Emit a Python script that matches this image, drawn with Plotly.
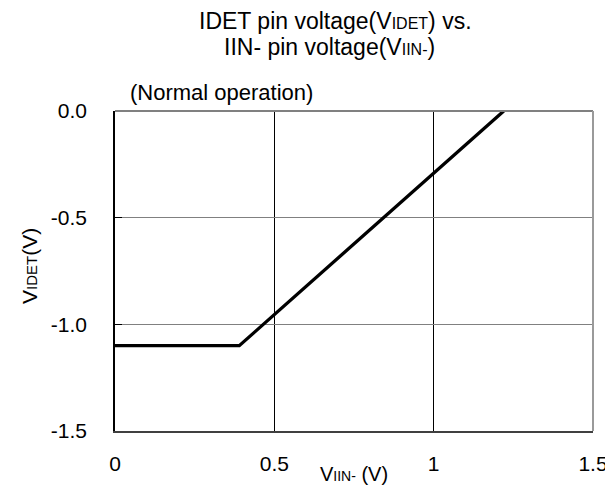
import plotly.graph_objects as go

# Data
v_iin = [0.0, 0.39, 1.22]
v_idet = [-1.1, -1.1, 0.0]

x_ticks = [0, 0.5, 1, 1.5]
x_tick_text = ["0", "0.5", "1", "1.5"]
y_ticks = [0.0, -0.5, -1.0, -1.5]
y_tick_text = ["0.0", "-0.5", "-1.0", "-1.5"]

FONT = "Liberation Sans, Arial, sans-serif"

W, H = 613, 488
L, R, T, B = 107, 28, 103, 65
pw, ph = W - L - R, H - T - B


def px_x(x):
    return (x - L) / pw


def px_y(y):
    return (H - B - y) / ph


fig = go.Figure()
fig.add_trace(go.Scatter(
    x=v_iin, y=v_idet, mode="lines",
    line=dict(color="black", width=3.3),
    showlegend=False, hoverinfo="skip", cliponaxis=True,
))

fig.update_layout(
    width=W, height=H,
    margin=dict(l=L, r=R, t=T, b=B, autoexpand=False),
    paper_bgcolor="white", plot_bgcolor="white",
    font=dict(family=FONT, size=21, color="black"),
    showlegend=False,
)

fig.update_xaxes(
    range=[0, 1.5], tickvals=x_ticks, ticktext=x_tick_text,
    showgrid=True, gridcolor="black", gridwidth=1,
    zeroline=False, showline=True, linecolor="#404040", linewidth=2,
    ticks="inside", ticklen=7, tickcolor="black",
    ticklabelstandoff=13,
    tickfont=dict(size=21, family=FONT, color="black"),
)
fig.update_yaxes(
    range=[-1.5, 0], tickvals=y_ticks, ticktext=y_tick_text,
    showgrid=True, gridcolor="#808080", gridwidth=1,
    zeroline=False, showline=True, linecolor="black", linewidth=1.5,
    ticks="inside", ticklen=7, tickcolor="black",
    ticklabelstandoff=22,
    tickfont=dict(size=21, family=FONT, color="black"),
)

# top and right frame lines (lighter grey as in the reference)
fig.add_shape(type="line", xref="paper", yref="paper", x0=0, x1=1, y0=1, y1=1,
              line=dict(color="#808080", width=2), layer="above")
fig.add_shape(type="line", xref="paper", yref="paper", x0=1, x1=1, y0=0, y1=1,
              line=dict(color="#9a9a9a", width=2), layer="above")

annotations = [
    dict(text="IDET pin voltage(V<span style='font-size:16px'>IDET</span>) vs.",
         x=px_x(327), y=px_y(13), font=dict(size=23)),
    dict(text="IIN- pin voltage(V<span style='font-size:16px'>IIN-</span>)",
         x=px_x(321), y=px_y(39), font=dict(size=23)),
    dict(text="(Normal operation)", x=px_x(120), y=px_y(84), xanchor="left",
         font=dict(size=22)),
    dict(text="V<span style='font-size:14px'>IIN-</span> (V)",
         x=px_x(346), y=px_y(466), font=dict(size=20)),
    dict(text="V<span style='font-size:15px'>IDET</span>(V)",
         x=px_x(21), y=px_y(258), textangle=-90, font=dict(size=21)),
]
for a in annotations:
    a.setdefault("xanchor", "center")
    fig.add_annotation(xref="paper", yref="paper", showarrow=False,
                       yanchor="middle", font_family=FONT, font_color="black",
                       **{k: v for k, v in a.items()})

fig.write_html("out.html")
